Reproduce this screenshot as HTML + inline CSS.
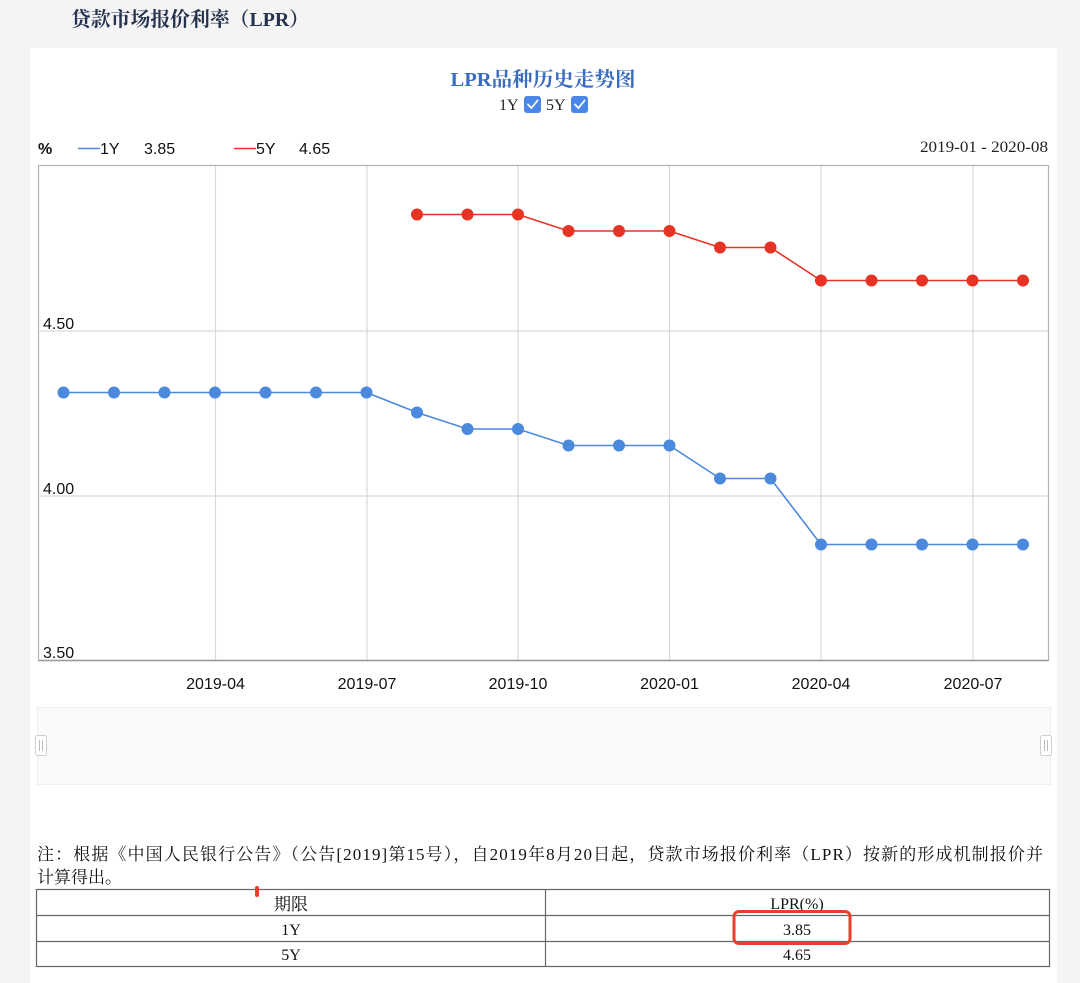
<!DOCTYPE html>
<html>
<head>
<meta charset="utf-8">
<style>
  html,body{margin:0;padding:0;background:#f4f4f4;}
  body{width:1080px;height:983px;overflow:hidden;}
  svg{display:block;}
</style>
</head>
<body>
<svg width="1080" height="983" viewBox="0 0 1080 983" xmlns="http://www.w3.org/2000/svg">
  <rect x="0" y="0" width="1080" height="983" fill="#f4f4f4"/>
  <rect x="30" y="48" width="1027" height="935" fill="#ffffff"/>

  <!-- page header -->
  <text x="71" y="26" font-family="Liberation Serif, Noto Serif CJK SC, serif" font-size="20" font-weight="bold" fill="#24324f" textLength="238" lengthAdjust="spacingAndGlyphs">贷款市场报价利率（LPR）</text>

  <!-- chart title -->
  <text x="543" y="86" text-anchor="middle" font-family="Liberation Serif, Noto Serif CJK SC, serif" font-size="20" font-weight="bold" fill="#3a6cc0" textLength="185" lengthAdjust="spacingAndGlyphs">LPR品种历史走势图</text>
  <text x="499" y="110" font-family="Liberation Serif, serif" font-size="16" fill="#222">1Y</text>
  <rect x="524" y="96" width="17" height="17" rx="3" fill="#4a87e8"/>
  <path d="M528 104.5 L531.5 108 L537.5 100.5" fill="none" stroke="#fff" stroke-width="1.8" stroke-linecap="round" stroke-linejoin="round"/>
  <text x="546" y="110" font-family="Liberation Serif, serif" font-size="16" fill="#222">5Y</text>
  <rect x="571" y="96" width="17" height="17" rx="3" fill="#4a87e8"/>
  <path d="M575 104.5 L578.5 108 L584.5 100.5" fill="none" stroke="#fff" stroke-width="1.8" stroke-linecap="round" stroke-linejoin="round"/>

  <!-- legend -->
  <text x="38" y="154" font-family="Liberation Sans, sans-serif" font-size="16" font-weight="bold" fill="#111">%</text>
  <line x1="78" y1="148.5" x2="100" y2="148.5" stroke="#4a89dc" stroke-width="1.5"/>
  <text x="100" y="154" font-family="Liberation Sans, sans-serif" font-size="16" fill="#111">1Y</text>
  <text x="144" y="154" font-family="Liberation Sans, sans-serif" font-size="16" fill="#111">3.85</text>
  <line x1="234" y1="148.5" x2="256" y2="148.5" stroke="#e63323" stroke-width="1.5"/>
  <text x="256" y="154" font-family="Liberation Sans, sans-serif" font-size="16" fill="#111">5Y</text>
  <text x="299" y="154" font-family="Liberation Sans, sans-serif" font-size="16" fill="#111">4.65</text>

  <text x="1048" y="152" text-anchor="end" font-family="Liberation Serif, serif" font-size="16" fill="#222" textLength="128" lengthAdjust="spacingAndGlyphs">2019-01 - 2020-08</text>

  <!-- plot grid -->
  <g stroke="#d9d9d9" stroke-width="1.2">
    <line x1="38.5" y1="331" x2="1048.5" y2="331"/>
    <line x1="38.5" y1="496" x2="1048.5" y2="496"/>
    <line x1="215.5" y1="165.5" x2="215.5" y2="660"/>
    <line x1="367" y1="165.5" x2="367" y2="660"/>
    <line x1="518" y1="165.5" x2="518" y2="660"/>
    <line x1="669.5" y1="165.5" x2="669.5" y2="660"/>
    <line x1="821" y1="165.5" x2="821" y2="660"/>
    <line x1="973" y1="165.5" x2="973" y2="660"/>
  </g>
  <rect x="38.5" y="165.5" width="1010" height="495" fill="none" stroke="#b3b3b3" stroke-width="1.2"/>
  <line x1="38.5" y1="660.5" x2="1048.5" y2="660.5" stroke="#9a9a9a" stroke-width="1.4"/>

  <!-- y labels -->
  <g font-family="Liberation Sans, sans-serif" font-size="16" fill="#111">
    <text x="43" y="329">4.50</text>
    <text x="43" y="494">4.00</text>
    <text x="43" y="658">3.50</text>
  </g>

  <!-- x labels -->
  <g font-family="Liberation Sans, sans-serif" font-size="16" fill="#111" text-anchor="middle">
    <text x="215.5" y="689">2019-04</text>
    <text x="367" y="689">2019-07</text>
    <text x="518" y="689">2019-10</text>
    <text x="669.5" y="689">2020-01</text>
    <text x="821" y="689">2020-04</text>
    <text x="973" y="689">2020-07</text>
  </g>

  <!-- 1Y series -->
  <polyline fill="none" stroke="#4a89dc" stroke-width="1.6"
    points="63.5,392.5 114,392.5 164.5,392.5 215,392.5 265.5,392.5 316,392.5 366.5,392.5 417,412.5 467.5,429 518,429 568.5,445.5 619,445.5 669.5,445.5 720,478.5 770.5,478.5 821,544.5 871.5,544.5 922,544.5 972.5,544.5 1023,544.5"/>
  <g fill="#4a89dc">
    <circle cx="63.5" cy="392.5" r="6"/>
    <circle cx="114" cy="392.5" r="6"/>
    <circle cx="164.5" cy="392.5" r="6"/>
    <circle cx="215" cy="392.5" r="6"/>
    <circle cx="265.5" cy="392.5" r="6"/>
    <circle cx="316" cy="392.5" r="6"/>
    <circle cx="366.5" cy="392.5" r="6"/>
    <circle cx="417" cy="412.5" r="6"/>
    <circle cx="467.5" cy="429" r="6"/>
    <circle cx="518" cy="429" r="6"/>
    <circle cx="568.5" cy="445.5" r="6"/>
    <circle cx="619" cy="445.5" r="6"/>
    <circle cx="669.5" cy="445.5" r="6"/>
    <circle cx="720" cy="478.5" r="6"/>
    <circle cx="770.5" cy="478.5" r="6"/>
    <circle cx="821" cy="544.5" r="6"/>
    <circle cx="871.5" cy="544.5" r="6"/>
    <circle cx="922" cy="544.5" r="6"/>
    <circle cx="972.5" cy="544.5" r="6"/>
    <circle cx="1023" cy="544.5" r="6"/>
  </g>

  <!-- 5Y series -->
  <polyline fill="none" stroke="#e63323" stroke-width="1.6"
    points="417,214.5 467.5,214.5 518,214.5 568.5,231 619,231 669.5,231 720,247.5 770.5,247.5 821,280.5 871.5,280.5 922,280.5 972.5,280.5 1023,280.5"/>
  <g fill="#e63323">
    <circle cx="417" cy="214.5" r="6"/>
    <circle cx="467.5" cy="214.5" r="6"/>
    <circle cx="518" cy="214.5" r="6"/>
    <circle cx="568.5" cy="231" r="6"/>
    <circle cx="619" cy="231" r="6"/>
    <circle cx="669.5" cy="231" r="6"/>
    <circle cx="720" cy="247.5" r="6"/>
    <circle cx="770.5" cy="247.5" r="6"/>
    <circle cx="821" cy="280.5" r="6"/>
    <circle cx="871.5" cy="280.5" r="6"/>
    <circle cx="922" cy="280.5" r="6"/>
    <circle cx="972.5" cy="280.5" r="6"/>
    <circle cx="1023" cy="280.5" r="6"/>
  </g>

  <!-- data zoom slider -->
  <rect x="37.5" y="707.5" width="1013" height="77" fill="#fafafa" stroke="#efefef" stroke-width="1"/>
  <rect x="35.5" y="735.5" width="11" height="20" rx="2" fill="#ffffff" stroke="#cfcfcf" stroke-width="1"/>
  <line x1="39.5" y1="740" x2="39.5" y2="751" stroke="#bbb" stroke-width="1"/>
  <line x1="42.5" y1="740" x2="42.5" y2="751" stroke="#bbb" stroke-width="1"/>
  <rect x="1040.5" y="735.5" width="11" height="20" rx="2" fill="#ffffff" stroke="#cfcfcf" stroke-width="1"/>
  <line x1="1044.5" y1="740" x2="1044.5" y2="751" stroke="#bbb" stroke-width="1"/>
  <line x1="1047.5" y1="740" x2="1047.5" y2="751" stroke="#bbb" stroke-width="1"/>

  <!-- note -->
  <text x="37" y="860" font-family="Liberation Serif, Noto Serif CJK SC, serif" font-size="17" fill="#111" textLength="1006" lengthAdjust="spacing">注：根据《中国人民银行公告》（公告[2019]第15号），自2019年8月20日起，贷款市场报价利率（LPR）按新的形成机制报价并</text>
  <text x="37" y="883" font-family="Liberation Serif, Noto Serif CJK SC, serif" font-size="17" fill="#111">计算得出。</text>

  <!-- table -->
  <g stroke="#666" stroke-width="1.2" fill="none">
    <rect x="36.5" y="889.5" width="1013" height="77"/>
    <line x1="36.5" y1="915.5" x2="1049.5" y2="915.5"/>
    <line x1="36.5" y1="941.5" x2="1049.5" y2="941.5"/>
    <line x1="545.5" y1="889.5" x2="545.5" y2="966.5"/>
  </g>
  <g font-family="Liberation Serif, Noto Serif CJK SC, serif" font-size="16" fill="#111" text-anchor="middle">
    <text x="291" y="910" font-size="17">期限</text>
    <text x="797" y="909">LPR(%)</text>
    <text x="291" y="935">1Y</text>
    <text x="797" y="935">3.85</text>
    <text x="291" y="960">5Y</text>
    <text x="797" y="960">4.65</text>
  </g>

  <!-- annotations -->
  <rect x="734" y="911.5" width="116" height="32" rx="5" fill="none" stroke="#e4402a" stroke-width="3"/>
  <rect x="255" y="886" width="4" height="11" rx="2" fill="#e4402a"/>
</svg>
</body>
</html>
